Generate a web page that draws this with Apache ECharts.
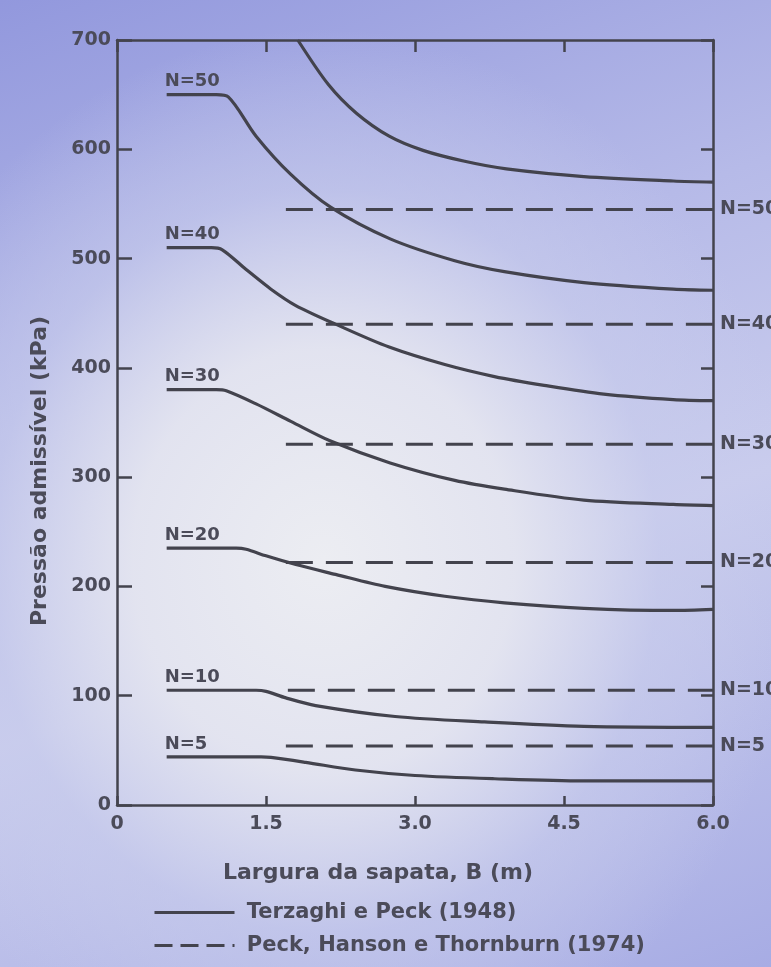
<!DOCTYPE html>
<html><head><meta charset="utf-8">
<script src="https://cdn.jsdelivr.net/npm/echarts@6/dist/echarts.min.js"></script>
<style>
html,body{margin:0;padding:0;width:771px;height:967px;overflow:hidden;}
body{background:
 radial-gradient(ellipse 62% 55% at 42% 58%, rgba(236,237,242,1) 0%, rgba(228,229,240,0.95) 40%, rgba(200,204,236,0.6) 70%, rgba(160,165,225,0) 100%),
 linear-gradient(160deg, #9298dd 0%, #b6bae8 35%, #c9cced 60%, #a7ace4 100%);}
#chart{width:771px;height:967px;}
</style></head><body><div id="chart"></div>
<script>
// x-axis ticks (m) and y-axis ticks (kPa)
const xTicks = [0, 1.5, 3.0, 4.5, 6.0];
const yTicks = [0, 100, 200, 300, 400, 500, 600, 700];

// Terzaghi e Peck (1948) – solid curves [B (m), pressão (kPa)]
const tpLabels = ['', 'N=50', 'N=40', 'N=30', 'N=20', 'N=10', 'N=5'];
const tpTop = [[1.82,700],[2.13,659],[2.41,633],[2.74,612],[3.08,599],[3.5,589],[3.92,582],[4.7,575],[5.6,571],[6.0,570]];
const tpN50 = [[0.5,650],[1.0,650],[1.12,648],[1.4,612],[1.75,577],[2.15,547],[2.75,518],[3.4,498],[3.9,488],[4.7,478],[5.6,472],[6.0,471]];
const tpN40 = [[0.5,510],[0.95,510],[1.06,508],[1.3,490],[1.55,472],[1.8,457],[2.2,440],[2.74,419],[3.3,403],[3.8,392],[4.3,384],[4.9,376],[5.6,371],[6.0,370]];
const tpN30 = [[0.5,380],[1.0,380],[1.1,379],[1.4,367],[1.75,351],[2.15,333],[2.75,313],[3.4,297],[3.9,289],[4.7,279],[5.6,275],[6.0,274]];
const tpN20 = [[0.5,235],[1.2,235],[1.3,234],[1.5,228],[1.8,220],[2.2,211],[2.7,200],[3.3,191],[3.9,185],[4.7,180],[5.6,178],[6.0,179]];
const tpN10 = [[0.5,105],[1.4,105],[1.5,104],[1.7,98],[2.0,91],[2.8,81],[3.7,76],[4.7,72],[6.0,71]];
const tpN5  = [[0.5,44],[1.45,44],[1.55,43.5],[1.9,39],[2.4,32],[3.0,27],[3.8,24],[4.7,22],[6.0,22]];

// Peck, Hanson e Thornburn (1974) – dashed horizontal lines
const phtLabels = ['N=50', 'N=40', 'N=30', 'N=20', 'N=10', 'N=5'];
const phtValues = [545, 440, 330, 222, 105, 54];
const phtStart  = [1.7, 1.7, 1.7, 1.7, 1.72, 1.7];
const phtEnd    = 6.0;

const INK = '#43434d';
const TXT = '#4b4b59';
const FONT = 'DejaVu Sans';
const nameTP = 'Terzaghi e Peck (1948)';
const namePHT = 'Peck, Hanson e Thornburn (1974)';

const tpCurves = [tpTop, tpN50, tpN40, tpN30, tpN20, tpN10, tpN5];
const series = [];
tpCurves.forEach(function (d) {
  series.push({
    name: nameTP, type: 'line', data: d, showSymbol: false, symbol: 'none',
    smooth: 0.3,
    lineStyle: { color: INK, width: 3.2, type: 'solid' },
    itemStyle: { color: INK }, silent: true, z: 3
  });
});
phtValues.forEach(function (v, i) {
  series.push({
    name: namePHT, type: 'line', data: [[phtStart[i], v], [phtEnd, v]],
    showSymbol: false, symbol: 'none',
    lineStyle: { color: INK, width: 3, type: [27, 13] },
    itemStyle: { color: INK }, silent: true, z: 3,
    endLabel: { show: true, formatter: phtLabels[i], distance: 7,
      color: TXT, fontSize: 19, fontFamily: FONT, fontWeight: 'bold' }
  });
});
// left-side N labels above flat parts
const leftLabelData = [];
tpCurves.forEach(function (d, i) {
  if (tpLabels[i]) leftLabelData.push([d[0][0], d[0][1], tpLabels[i]]);
});
series.push({
  name: 'labels', type: 'scatter', data: leftLabelData, symbolSize: 0, silent: true,
  itemStyle: { color: TXT, opacity: 1 },
  label: { show: true, position: [0, 0], align: 'left', verticalAlign: 'bottom', offset: [-2, -4],
    formatter: function (p) { return p.data[2]; }, opacity: 1,
    color: TXT, fontSize: 18, fontFamily: FONT, fontWeight: 'bold' }
});

const axisLabelStyle = { color: TXT, fontSize: 19, fontFamily: FONT, fontWeight: 'bold' };
const option = {
  animation: false,
  backgroundColor: 'transparent',
  grid: { left: 117, right: 58, top: 40, bottom: 162, containLabel: false },
  xAxis: [{
    type: 'value', min: xTicks[0], max: xTicks[xTicks.length - 1], interval: 1.5,
    axisLine: { show: true, onZero: false, lineStyle: { color: INK, width: 2.5 } },
    axisTick: { show: true, inside: true, length: 9, lineStyle: { color: INK, width: 2.5 } },
    splitLine: { show: false },
    axisLabel: Object.assign({ margin: 10, formatter: function (v) { return v === 0 ? '0' : v.toFixed(1); } }, axisLabelStyle)
  }, {
    type: 'value', position: 'top', min: xTicks[0], max: xTicks[xTicks.length - 1], interval: 1.5,
    axisLine: { show: true, onZero: false, lineStyle: { color: INK, width: 2.5 } },
    axisTick: { show: true, inside: true, length: 12, lineStyle: { color: INK, width: 2.5 } },
    splitLine: { show: false }, axisLabel: { show: false }
  }],
  yAxis: [{
    type: 'value', min: yTicks[0], max: yTicks[yTicks.length - 1], interval: 100,
    axisLine: { show: true, onZero: false, lineStyle: { color: INK, width: 2.5 } },
    axisTick: { show: true, inside: true, length: 15, lineStyle: { color: INK, width: 2.5 } },
    splitLine: { show: false },
    axisLabel: Object.assign({ margin: 6 }, axisLabelStyle)
  }, {
    type: 'value', position: 'right', min: yTicks[0], max: yTicks[yTicks.length - 1], interval: 100,
    axisLine: { show: true, onZero: false, lineStyle: { color: INK, width: 2.5 } },
    axisTick: { show: true, inside: true, length: 12, lineStyle: { color: INK, width: 2.5 } },
    splitLine: { show: false }, axisLabel: { show: false }
  }],
  legend: {
    orient: 'vertical', left: 148, top: 897, itemWidth: 80, itemHeight: 14, itemGap: 12,
    selectedMode: false,
    itemStyle: { opacity: 0 },
    data: [
      { name: nameTP, lineStyle: { color: INK, width: 3, type: 'solid' } },
      { name: namePHT, lineStyle: { color: INK, width: 3, type: [18, 8] } }
    ],
    formatter: function (n) { return ' ' + n; },
    textStyle: { color: TXT, fontSize: 21, fontFamily: FONT, fontWeight: 'bold' }
  },
  graphic: [{
    type: 'text', x: 40, y: 471, rotation: Math.PI / 2,
    style: { text: 'Pressão admissível (kPa)', fill: TXT, fontSize: 22, fontFamily: FONT, fontWeight: 'bold',
      align: 'center', verticalAlign: 'middle' }
  }, {
    type: 'text', x: 378, y: 873,
    style: { text: 'Largura da sapata, B (m)', fill: TXT, fontSize: 22, fontFamily: FONT, fontWeight: 'bold',
      align: 'center', verticalAlign: 'middle' }
  }],
  series: series
};
const chart = echarts.init(document.getElementById('chart'), null, { renderer: 'canvas' });
chart.setOption(option);
</script></body></html>
